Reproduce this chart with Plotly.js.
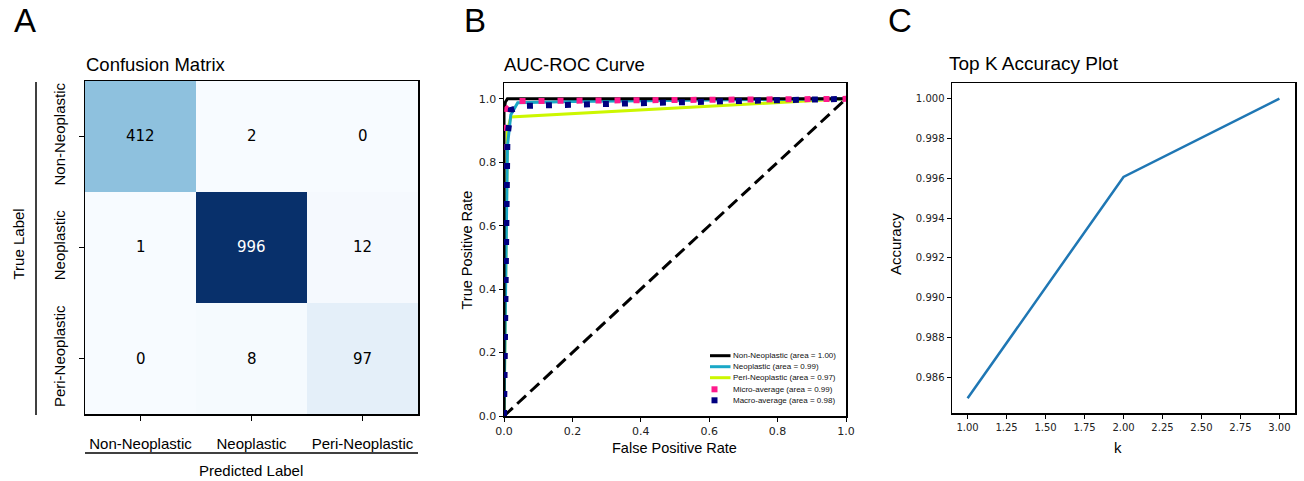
<!DOCTYPE html>
<html>
<head>
<meta charset="utf-8">
<script src="https://cdn.plot.ly/plotly-3.0.1.min.js"></script>
<style>html,body{margin:0;padding:0;background:#fff;}#chart{width:1304px;height:481px;}</style>
</head>
<body>
<div id="chart"></div>
<script>
// ---------- data ----------
const classes = ["Non-Neoplastic", "Neoplastic", "Peri-Neoplastic"];
const cmRow0 = [412, 2, 0];
const cmRow1 = [1, 996, 12];
const cmRow2 = [0, 8, 97];

const rocNonFpr = [0, 0, 0.004, 0.01, 1];
const rocNonTpr = [0, 0.96, 0.99, 1.0, 1.0];
const rocNeoFpr = [0, 0.005, 0.01, 0.02, 0.04, 0.2, 0.6, 1];
const rocNeoTpr = [0, 0.5, 0.85, 0.95, 0.988, 0.992, 0.996, 1.0];
const rocPeriFpr = [0, 0.005, 0.01, 0.02, 1];
const rocPeriTpr = [0, 0.45, 0.9, 0.943, 1.0];
const rocMicroFpr = [0, 0.004, 0.01, 0.03, 1];
const rocMicroTpr = [0, 0.9, 0.97, 0.993, 1.0];
const rocMacroFpr = [0, 0.005, 0.01, 0.02, 0.06, 0.5, 1];
const rocMacroTpr = [0, 0.5, 0.88, 0.965, 0.978, 0.989, 1.0];
const chanceX = [0, 1];
const chanceY = [0, 1];
const legendLabels = [
  "Non-Neoplastic (area = 1.00)",
  "Neoplastic (area = 0.99)",
  "Peri-Neoplastic (area = 0.97)",
  "Micro-average (area = 0.99)",
  "Macro-average (area = 0.98)"
];

const topK = [1, 2, 3];
const topKAcc = [0.98495, 0.99607, 1.0];
const topKXTicks = [1.0, 1.25, 1.5, 1.75, 2.0, 2.25, 2.5, 2.75, 3.0];
const topKYTicks = [0.986, 0.988, 0.990, 0.992, 0.994, 0.996, 0.998, 1.000];
const rocTicks = [0, 0.2, 0.4, 0.6, 0.8, 1.0];

// ---------- helpers ----------
const W = 1304, H = 481;
const px = p => p / W;
const py = p => 1 - p / H;
const ARIAL = "Liberation Sans, Arial, sans-serif";
const DEJAVU = "DejaVu Sans, sans-serif";

const cm = [cmRow0, cmRow1, cmRow2];
const blues = [
  [0, "#f7fbff"], [0.125, "#deebf7"], [0.25, "#c6dbef"], [0.375, "#9ecae1"],
  [0.5, "#6baed6"], [0.625, "#4292c6"], [0.75, "#2171b5"], [0.875, "#08519c"], [1, "#08306b"]
];
const colNeo = "#1aa8c7";
const colPeri = "#ccf700";
const colMicro = "#ff1a8c";
const colMacro = "#000080";

const traces = [
  {
    type: "heatmap", x: classes, y: classes, z: cm,
    colorscale: blues, zmin: 0, zmax: Math.max(...cm.flat()),
    showscale: false, xaxis: "x", yaxis: "y", hoverinfo: "skip"
  },
  { type: "scatter", mode: "lines", x: chanceX, y: chanceY, xaxis: "x2", yaxis: "y2",
    line: { color: "#000", width: 3, dash: "12px,6px" }, showlegend: false },
  { type: "scatter", mode: "lines", x: rocPeriFpr, y: rocPeriTpr, xaxis: "x2", yaxis: "y2",
    line: { color: colPeri, width: 3 }, showlegend: false },
  { type: "scatter", mode: "lines", x: rocNeoFpr, y: rocNeoTpr, xaxis: "x2", yaxis: "y2",
    line: { color: colNeo, width: 3 }, showlegend: false },
  { type: "scatter", mode: "lines", x: rocNonFpr, y: rocNonTpr, xaxis: "x2", yaxis: "y2",
    line: { color: "#000", width: 3 }, showlegend: false },
  { type: "scatter", mode: "lines", x: rocMicroFpr, y: rocMicroTpr, xaxis: "x2", yaxis: "y2",
    line: { color: colMicro, width: 6, dash: "6px,13px" }, showlegend: false },
  { type: "scatter", mode: "lines", x: rocMacroFpr, y: rocMacroTpr, xaxis: "x2", yaxis: "y2",
    line: { color: colMacro, width: 6, dash: "6px,13px" }, showlegend: false },
  { type: "scatter", mode: "lines", x: topK, y: topKAcc, xaxis: "x3", yaxis: "y3",
    line: { color: "#1f77b4", width: 2.5 }, showlegend: false }
];

// ---------- annotations ----------
const ann = [];
const maxV = Math.max(...cm.flat());
for (let i = 0; i < 3; i++) {
  for (let j = 0; j < 3; j++) {
    ann.push({
      x: classes[j], y: classes[i], xref: "x", yref: "y", showarrow: false,
      text: String(cm[i][j]),
      font: { family: DEJAVU, size: 15, color: cm[i][j] > maxV / 2 ? "#fff" : "#000" }
    });
  }
}
function label(text, x, y, size, opts) {
  return Object.assign({
    text: text, x: px(x), y: py(y), xref: "paper", yref: "paper", showarrow: false,
    xanchor: "center", yanchor: "middle", font: { family: ARIAL, size: size, color: "#000" }
  }, opts || {});
}
ann.push(label("A", 12, 21, 33, { xanchor: "left" }));
ann.push(label("B", 462, 21, 33, { xanchor: "left" }));
ann.push(label("C", 886, 21, 33, { xanchor: "left" }));
ann.push(label("Confusion Matrix", 84, 64, 18.5, { xanchor: "left" }));
ann.push(label("AUC-ROC Curve", 502, 64, 18.5, { xanchor: "left" }));
ann.push(label("Top K Accuracy Plot", 947, 63, 19, { xanchor: "left" }));
ann.push(label("True Label", 17.5, 244, 15, { textangle: -90 }));
ann.push(label("Predicted Label", 251, 470, 15));
ann.push(label("True Positive Rate", 466.5, 250, 14.5, { textangle: -90 }));
ann.push(label("False Positive Rate", 674, 448, 14.5));
ann.push(label("Accuracy", 895, 244, 15, { textangle: -90 }));
ann.push(label("k", 1118, 447, 15));

const legRows = [355.7, 366.7, 377.7, 389.3, 400.3];
legendLabels.forEach((t, k) => {
  ann.push(label(t, 731, legRows[k], 8, { xanchor: "left", font: { family: ARIAL, size: 8, color: "#111" } }));
});

// ---------- shapes (decorations + legend keys) ----------
const shapes = [
  { type: "line", xref: "paper", yref: "paper", x0: px(36), x1: px(36), y0: py(82), y1: py(415), line: { color: "#000", width: 1.5 } },
  { type: "line", xref: "paper", yref: "paper", x0: px(85), x1: px(418), y0: py(453), y1: py(453), line: { color: "#000", width: 1.5 } }
];
const legLineColors = ["#000", colNeo, colPeri];
legLineColors.forEach((c, k) => {
  shapes.push({ type: "line", xref: "paper", yref: "paper", x0: px(710), x1: px(730.5), y0: py(legRows[k]), y1: py(legRows[k]), line: { color: c, width: 3 } });
});
[colMicro, colMacro].forEach((c, k) => {
  const yc = legRows[3 + k];
  shapes.push({ type: "rect", xref: "paper", yref: "paper", x0: px(711.5), x1: px(717.5), y0: py(yc + 3), y1: py(yc - 3), fillcolor: c, line: { width: 0 } });
});

// ---------- axes ----------
const baseAx = {
  showgrid: false, zeroline: false, showline: true, mirror: true,
  linecolor: "#000", linewidth: 1.5, ticks: "outside", tickcolor: "#000",
  tickwidth: 1, ticklen: 4, fixedrange: true
};
const layout = {
  width: W, height: H, autosize: false,
  margin: { l: 0, r: 0, t: 0, b: 0, pad: 0 },
  paper_bgcolor: "#fff", plot_bgcolor: "#fff",
  showlegend: false,
  xaxis: Object.assign({}, baseAx, {
    domain: [px(85), px(418)], anchor: "y", type: "category",
    ticklen: 5, tickwidth: 1.5, ticklabelstandoff: 10,
    tickfont: { family: ARIAL, size: 15, color: "#000" }
  }),
  yaxis: Object.assign({}, baseAx, {
    domain: [py(414), py(81)], anchor: "x", type: "category", autorange: "reversed",
    ticklen: 5, tickwidth: 1.5, tickangle: -90, ticklabelstandoff: 8,
    tickfont: { family: ARIAL, size: 15, color: "#000" }
  }),
  xaxis2: Object.assign({}, baseAx, {
    domain: [px(504), px(846)], anchor: "y2", range: [0, 1],
    tickvals: rocTicks, ticktext: rocTicks.map(v => v.toFixed(1)),
    tickfont: { family: DEJAVU, size: 11, color: "#222" }
  }),
  yaxis2: Object.assign({}, baseAx, {
    domain: [py(416), py(83)], anchor: "x2", range: [0, 1.05],
    tickvals: rocTicks, ticktext: rocTicks.map(v => v.toFixed(1)),
    tickfont: { family: DEJAVU, size: 11, color: "#222" }
  }),
  xaxis3: Object.assign({}, baseAx, {
    domain: [px(952), px(1295)], anchor: "y3", range: [0.9, 3.1],
    tickvals: topKXTicks, ticktext: topKXTicks.map(v => v.toFixed(2)),
    tickfont: { family: DEJAVU, size: 10, color: "#222" }
  }),
  yaxis3: Object.assign({}, baseAx, {
    domain: [py(413), py(83)], anchor: "x3", range: [0.98421, 1.00079],
    tickvals: topKYTicks, ticktext: topKYTicks.map(v => v.toFixed(3)),
    tickfont: { family: DEJAVU, size: 10, color: "#222" }
  }),
  annotations: ann,
  shapes: shapes
};

Plotly.newPlot("chart", traces, layout, { staticPlot: true, displayModeBar: false });
</script>
</body>
</html>
